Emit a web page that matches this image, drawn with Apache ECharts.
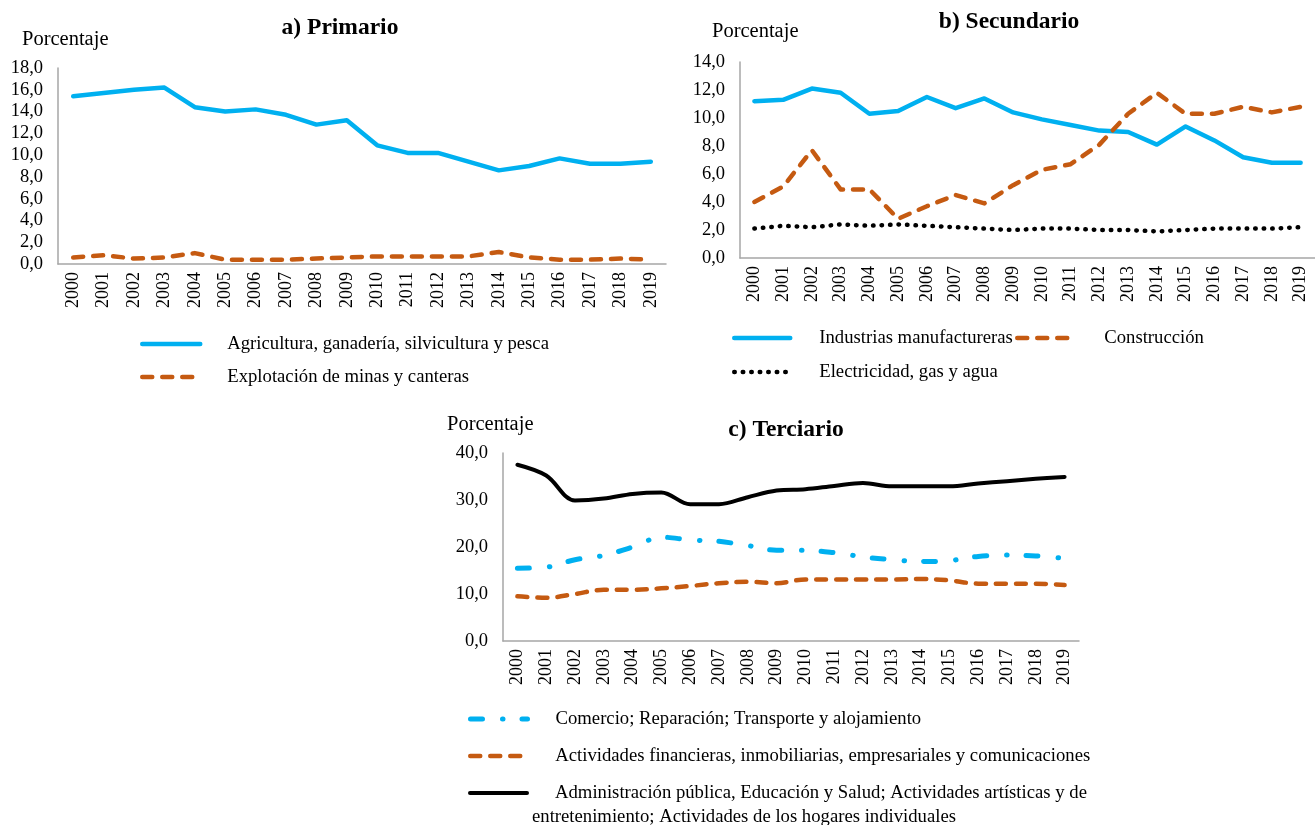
<!DOCTYPE html>
<html>
<head>
<meta charset="utf-8">
<script src="https://cdn.jsdelivr.net/npm/echarts@6/dist/echarts.min.js"></script>
<style>html,body{margin:0;padding:0;background:#fff}#c{width:1315px;height:825px}</style>
</head>
<body>
<div id="c"></div>
<script>
const years = ['2000','2001','2002','2003','2004','2005','2006','2007','2008','2009','2010','2011','2012','2013','2014','2015','2016','2017','2018','2019'];

const primAgri  = [15.4,15.7,16.0,16.2,14.4,14.0,14.2,13.7,12.8,13.2,10.9,10.2,10.2,9.4,8.6,9.0,9.7,9.2,9.2,9.4];
const primMinas = [0.6,0.8,0.5,0.6,1.0,0.4,0.4,0.4,0.5,0.6,0.7,0.7,0.7,0.7,1.1,0.6,0.4,0.4,0.5,0.4];

const secManuf = [11.2,11.3,12.1,11.8,10.3,10.5,11.5,10.7,11.4,10.4,9.9,9.5,9.1,9.0,8.1,9.4,8.4,7.2,6.8,6.8];
const secConst = [4.0,5.1,7.7,4.9,4.9,2.8,3.7,4.5,3.9,5.2,6.3,6.7,8.1,10.3,11.8,10.3,10.3,10.8,10.4,10.8];
const secElec  = [2.1,2.3,2.2,2.4,2.3,2.4,2.3,2.2,2.1,2.0,2.1,2.1,2.0,2.0,1.9,2.0,2.1,2.1,2.1,2.2];

const terCom = [15.5,15.7,17.3,18.2,20.0,22.1,21.5,21.2,20.3,19.3,19.3,18.8,17.9,17.3,16.9,17.1,18.0,18.3,18.1,17.6];
const terFin = [9.5,9.2,10.0,10.9,10.9,11.2,11.7,12.3,12.6,12.3,13.1,13.1,13.1,13.1,13.2,12.9,12.2,12.2,12.2,11.9];
const terAdm = [37.5,35.2,29.9,30.3,31.3,31.6,29.1,29.1,30.6,32.0,32.3,33.0,33.6,32.9,32.9,32.9,33.5,34.0,34.5,34.9];

const titles = ['a) Primario','b) Secundario','c) Terciario'];
const yName = 'Porcentaje';
const nAgri = 'Agricultura, ganadería, silvicultura y pesca';
const nMinas = 'Explotación de minas y canteras';
const nManuf = 'Industrias manufactureras';
const nConst = 'Construcción';
const nElec = 'Electricidad, gas y agua';
const nCom = 'Comercio; Reparación; Transporte y alojamiento';
const nFin = 'Actividades financieras, inmobiliarias, empresariales y comunicaciones';
const admLines = ['Administración pública, Educación y Salud; Actividades artísticas y de','entretenimiento; Actividades de los hogares individuales'];
const nAdm = admLines.join(' ');

const FONT = '"Liberation Serif","Times New Roman",serif';
const BLUE = '#00B0F0', ORANGE = '#C55A11', BLACK = '#000000';
const LFS = 18.7;

function xAx(gi){
  return {type:'category', gridIndex:gi, data:years, boundaryGap:true,
    axisLine:{lineStyle:{color:'#A6A6A6', width:1.5}}, axisTick:{show:false},
    axisLabel:{rotate:90, margin:8, color:'#000', fontFamily:FONT, fontSize:18, interval:0}};
}
function yAx(gi, max, step){
  return {type:'value', gridIndex:gi, min:0, max:max, interval:step,
    axisLine:{show:true, lineStyle:{color:'#A6A6A6', width:1.5}}, axisTick:{show:false}, splitLine:{show:false},
    axisLabel:{margin:15, color:'#000', fontFamily:FONT, fontSize:18.5, formatter:v=>v.toFixed(1).replace('.',',')}};
}
function ln(name, data, gi, color, width, type, smooth){
  return {type:'line', name:name, data:data, xAxisIndex:gi, yAxisIndex:gi, symbol:'none', smooth:smooth||false,
    lineStyle:{color:color, width:width, type:type, cap:'round', join:'round'}, itemStyle:{color:color}, silent:true, animation:false};
}
const legBase = {orient:'horizontal', itemHeight:14, selectedMode:false, padding:0,
  itemStyle:{color:'rgba(0,0,0,0)', borderWidth:0, opacity:0},
  lineStyle:{width:'inherit', type:'inherit', cap:'inherit'},
  textStyle:{fontFamily:FONT, fontSize:LFS, color:'#000', lineHeight:20}};
function leg(name, left, cy, w, pad){
  return Object.assign({}, legBase, {left:left, top:cy-10, itemWidth:w, data:[name],
    textStyle:Object.assign({}, legBase.textStyle, {padding:[0,0,0,pad]})});
}
const tStyle = {fontFamily:FONT, fontSize:23.5, fontWeight:'bold', color:'#000'};
const pStyle = {fontFamily:FONT, fontSize:20.5, fontWeight:'normal', color:'#000'};

const DASH = [10,10];
const DOT = [0.5,8];
const DASHDOT = [12,20,0.5,19];

const option = {
  backgroundColor:'#fff',
  animation:false,
  title:[
    {text:titles[0], left:340, top:16, textAlign:'center', padding:0, textStyle:tStyle},
    {text:titles[1], left:1009, top:10, textAlign:'center', padding:0, textStyle:tStyle},
    {text:titles[2], left:786, top:418, textAlign:'center', padding:0, textStyle:tStyle},
    {text:yName, left:22, top:29, padding:0, textStyle:pStyle},
    {text:yName, left:712, top:21, padding:0, textStyle:pStyle},
    {text:yName, left:447, top:414, padding:0, textStyle:pStyle}
  ],
  grid:[
    {left:58, top:68, width:608, height:196},
    {left:740, top:62, width:575, height:196},
    {left:503, top:453, width:576, height:188}
  ],
  xAxis:[xAx(0), xAx(1), xAx(2)],
  yAxis:[yAx(0,18,2), yAx(1,14,2), yAx(2,40,10)],
  legend:[
    leg(nAgri, 140, 344, 58, 22),
    leg(nMinas, 140, 377, 58, 22),
    leg(nManuf, 732, 338, 56, 24),
    leg(nConst, 1015, 338, 51, 31),
    leg(nElec, 732, 372, 52, 28),
    leg(nCom, 468, 719, 57, 23),
    leg(nFin, 468, 756, 57, 23),
    Object.assign({}, legBase, {left:468, top:792-8.5, itemWidth:57, data:[nAdm],
      formatter:()=>'{a|'+admLines[0]+'}\n{b|'+admLines[1]+'}',
      textStyle:{fontFamily:FONT, fontSize:LFS, color:'#000', padding:[24,0,0,0],
        rich:{a:{fontFamily:FONT, fontSize:LFS, color:'#000', lineHeight:24, padding:[0,0,0,23]},
              b:{fontFamily:FONT, fontSize:LFS, color:'#000', lineHeight:24}}}})
  ],
  series:[
    ln(nAgri, primAgri, 0, BLUE, 4.5, 'solid'),
    ln(nMinas, primMinas, 0, ORANGE, 4.5, DASH),
    ln(nManuf, secManuf, 1, BLUE, 4.5, 'solid'),
    ln(nConst, secConst, 1, ORANGE, 4.5, DASH),
    ln(nElec, secElec, 1, BLACK, 4.5, DOT),
    ln(nCom, terCom, 2, BLUE, 5, DASHDOT, 0.35),
    ln(nFin, terFin, 2, ORANGE, 4.5, DASH, 0.35),
    ln(nAdm, terAdm, 2, BLACK, 4, 'solid', 0.35)
  ]
};
const chart = echarts.init(document.getElementById('c'), null, {renderer:'canvas'});
chart.setOption(option);
</script>
</body>
</html>
